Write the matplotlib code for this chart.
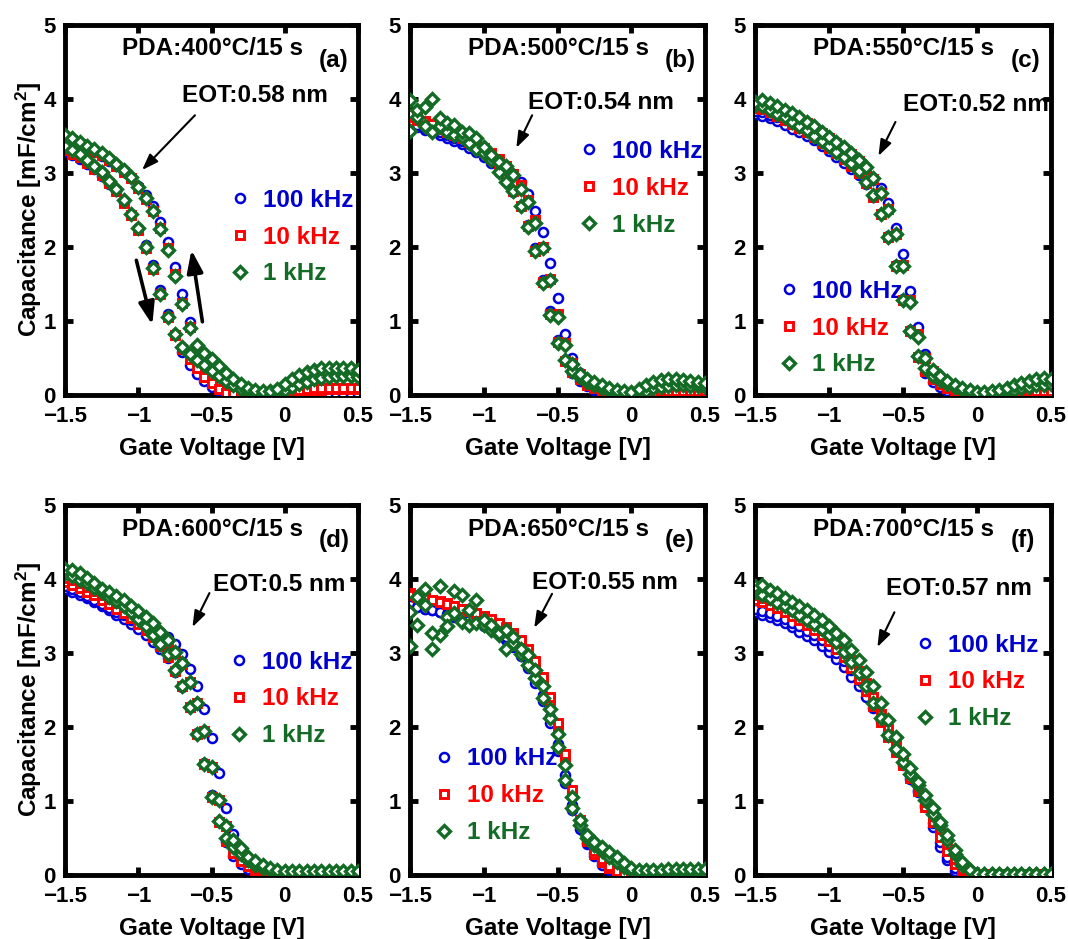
import matplotlib
matplotlib.use("Agg")
import matplotlib.pyplot as plt
from matplotlib.lines import Line2D

plt.rcParams["font.family"] = ["Liberation Sans", "DejaVu Sans"]
plt.rcParams["font.weight"] = "bold"
plt.rcParams["axes.labelweight"] = "bold"
plt.rcParams["mathtext.fontset"] = "custom"
plt.rcParams["mathtext.rm"] = "Liberation Sans:bold"
plt.rcParams["mathtext.bf"] = "Liberation Sans:bold"
plt.rcParams["mathtext.it"] = "Liberation Sans:bold"
plt.rcParams["mathtext.default"] = "rm"

# ---------------------------------------------------------------- data
# gate-voltage sweep points (V)
gate_v = [-1.50, -1.45, -1.40, -1.35, -1.30, -1.25, -1.20, -1.15, -1.10, -1.05,
          -1.00, -0.95, -0.90, -0.85, -0.80, -0.75, -0.70, -0.65, -0.60, -0.55,
          -0.50, -0.45, -0.40, -0.35, -0.30, -0.25, -0.20, -0.15, -0.10, -0.05,
          0.00, 0.05, 0.10, 0.15, 0.20, 0.25, 0.30, 0.35, 0.40, 0.45, 0.50]

# capacitance (mF/cm^2); fwd = sweep toward +V, rev = sweep back toward -V
# (a) PDA 400 C
a_100k_fwd = [3.29, 3.24, 3.19, 3.12, 3.05, 2.96, 2.85, 2.75, 2.61, 2.45, 2.26, 2.03, 1.76, 1.42, 1.10, 0.82, 0.58, 0.40, 0.29, 0.19, 0.11, 0.05, 0.02, 0.01, 0.01, 0.00, 0.00, 0.00, 0.00, 0.00, 0.00, 0.01, 0.01, 0.01, 0.01, 0.01, 0.01, 0.01, 0.01, 0.01, 0.01]
a_100k_rev = [3.47, 3.43, 3.38, 3.33, 3.28, 3.23, 3.16, 3.09, 3.01, 2.93, 2.82, 2.70, 2.55, 2.34, 2.07, 1.73, 1.37, 0.99, 0.62, 0.42, 0.25, 0.13, 0.06, 0.03, 0.02, 0.01, 0.01, 0.01, 0.01, 0.01, 0.01, 0.01, 0.02, 0.02, 0.02, 0.02, 0.02, 0.02, 0.02, 0.02, 0.02]
a_10k_fwd = [3.31, 3.26, 3.21, 3.14, 3.06, 2.97, 2.86, 2.75, 2.60, 2.43, 2.23, 1.98, 1.70, 1.37, 1.06, 0.81, 0.62, 0.48, 0.36, 0.25, 0.16, 0.08, 0.03, 0.01, 0.01, 0.00, 0.00, 0.00, 0.00, 0.01, 0.01, 0.02, 0.04, 0.05, 0.06, 0.07, 0.08, 0.08, 0.08, 0.08, 0.08]
a_10k_rev = [3.48, 3.44, 3.39, 3.34, 3.29, 3.24, 3.17, 3.10, 3.02, 2.93, 2.80, 2.65, 2.48, 2.25, 1.98, 1.63, 1.25, 0.92, 0.64, 0.50, 0.39, 0.29, 0.20, 0.13, 0.07, 0.04, 0.02, 0.01, 0.01, 0.02, 0.03, 0.05, 0.07, 0.08, 0.09, 0.10, 0.10, 0.10, 0.10, 0.10, 0.10]
a_1k_fwd = [3.37, 3.31, 3.26, 3.18, 3.10, 3.01, 2.89, 2.78, 2.63, 2.45, 2.25, 2.00, 1.71, 1.37, 1.06, 0.82, 0.65, 0.55, 0.47, 0.40, 0.33, 0.26, 0.19, 0.13, 0.08, 0.05, 0.03, 0.03, 0.03, 0.04, 0.07, 0.11, 0.15, 0.18, 0.21, 0.23, 0.25, 0.26, 0.26, 0.26, 0.25]
a_1k_rev = [3.51, 3.47, 3.42, 3.37, 3.32, 3.27, 3.20, 3.12, 3.04, 2.95, 2.81, 2.66, 2.49, 2.24, 1.96, 1.61, 1.23, 0.90, 0.68, 0.57, 0.48, 0.39, 0.30, 0.22, 0.15, 0.10, 0.07, 0.06, 0.05, 0.08, 0.15, 0.22, 0.27, 0.31, 0.34, 0.36, 0.37, 0.37, 0.37, 0.36, 0.34]

# (b) PDA 500 C
b_100k_fwd = [3.66, 3.62, 3.58, 3.55, 3.51, 3.47, 3.43, 3.39, 3.34, 3.28, 3.21, 3.13, 3.02, 2.89, 2.74, 2.55, 2.30, 1.98, 1.56, 1.13, 0.74, 0.47, 0.30, 0.19, 0.12, 0.07, 0.04, 0.02, 0.01, 0.01, 0.01, 0.01, 0.01, 0.01, 0.01, 0.01, 0.01, 0.01, 0.01, 0.01, 0.01]
b_100k_rev = [3.70, 3.65, 3.61, 3.58, 3.55, 3.51, 3.47, 3.43, 3.39, 3.34, 3.29, 3.23, 3.16, 3.08, 2.98, 2.88, 2.72, 2.49, 2.20, 1.78, 1.31, 0.83, 0.50, 0.30, 0.18, 0.10, 0.05, 0.03, 0.02, 0.01, 0.01, 0.01, 0.01, 0.01, 0.01, 0.01, 0.01, 0.01, 0.01, 0.01, 0.01]
b_10k_fwd = [3.76, 3.72, 3.68, 3.64, 3.60, 3.56, 3.52, 3.47, 3.42, 3.36, 3.29, 3.20, 3.08, 2.93, 2.76, 2.55, 2.28, 1.95, 1.53, 1.10, 0.72, 0.46, 0.31, 0.21, 0.14, 0.09, 0.06, 0.04, 0.02, 0.01, 0.01, 0.01, 0.02, 0.03, 0.03, 0.04, 0.04, 0.04, 0.04, 0.04, 0.04]
b_10k_rev = [3.80, 3.74, 3.70, 3.66, 3.62, 3.58, 3.54, 3.50, 3.45, 3.40, 3.34, 3.27, 3.19, 3.10, 2.99, 2.84, 2.64, 2.36, 2.00, 1.57, 1.09, 0.70, 0.43, 0.28, 0.18, 0.12, 0.08, 0.05, 0.03, 0.02, 0.01, 0.02, 0.03, 0.04, 0.05, 0.05, 0.05, 0.05, 0.05, 0.05, 0.05]
b_1k_fwd = [3.57, 3.75, 3.64, 3.56, 3.63, 3.55, 3.51, 3.48, 3.40, 3.32, 3.27, 3.18, 3.02, 2.88, 2.75, 2.55, 2.27, 1.94, 1.51, 1.08, 0.70, 0.47, 0.33, 0.24, 0.18, 0.13, 0.09, 0.06, 0.04, 0.02, 0.02, 0.03, 0.06, 0.09, 0.11, 0.12, 0.13, 0.13, 0.12, 0.12, 0.11]
b_1k_rev = [3.98, 3.85, 3.89, 4.00, 3.74, 3.67, 3.65, 3.56, 3.54, 3.47, 3.35, 3.24, 3.15, 3.09, 2.97, 2.79, 2.61, 2.33, 1.98, 1.55, 1.06, 0.68, 0.42, 0.29, 0.21, 0.17, 0.13, 0.10, 0.07, 0.05, 0.04, 0.08, 0.13, 0.17, 0.20, 0.21, 0.21, 0.20, 0.19, 0.18, 0.16]

# (c) PDA 550 C
c_100k_fwd = [3.80, 3.77, 3.74, 3.70, 3.65, 3.60, 3.55, 3.50, 3.44, 3.37, 3.30, 3.22, 3.14, 3.06, 2.97, 2.85, 2.68, 2.45, 2.15, 1.76, 1.30, 0.88, 0.52, 0.30, 0.18, 0.11, 0.06, 0.03, 0.02, 0.01, 0.01, 0.01, 0.01, 0.01, 0.01, 0.01, 0.01, 0.01, 0.01, 0.01, 0.01]
c_100k_rev = [3.84, 3.82, 3.79, 3.75, 3.71, 3.66, 3.61, 3.56, 3.50, 3.44, 3.38, 3.31, 3.24, 3.15, 3.07, 2.99, 2.91, 2.80, 2.60, 2.25, 1.90, 1.40, 0.92, 0.55, 0.30, 0.18, 0.10, 0.05, 0.03, 0.02, 0.01, 0.01, 0.01, 0.01, 0.01, 0.01, 0.01, 0.01, 0.01, 0.01, 0.01]
c_10k_fwd = [3.88, 3.86, 3.82, 3.77, 3.72, 3.66, 3.61, 3.55, 3.48, 3.41, 3.34, 3.27, 3.19, 3.10, 3.00, 2.86, 2.68, 2.44, 2.13, 1.74, 1.28, 0.86, 0.52, 0.33, 0.22, 0.15, 0.10, 0.06, 0.04, 0.02, 0.01, 0.01, 0.01, 0.01, 0.02, 0.02, 0.03, 0.03, 0.03, 0.04, 0.04]
c_10k_rev = [3.92, 3.93, 3.90, 3.86, 3.82, 3.78, 3.73, 3.67, 3.61, 3.54, 3.47, 3.40, 3.33, 3.25, 3.16, 3.06, 2.92, 2.73, 2.51, 2.18, 1.76, 1.28, 0.82, 0.50, 0.32, 0.22, 0.15, 0.10, 0.06, 0.04, 0.02, 0.02, 0.02, 0.03, 0.03, 0.04, 0.05, 0.05, 0.06, 0.06, 0.06]
c_1k_fwd = [3.92, 3.90, 3.85, 3.80, 3.75, 3.69, 3.64, 3.58, 3.50, 3.43, 3.36, 3.29, 3.22, 3.13, 3.03, 2.88, 2.70, 2.45, 2.14, 1.74, 1.28, 0.87, 0.53, 0.36, 0.26, 0.20, 0.15, 0.11, 0.07, 0.05, 0.03, 0.02, 0.02, 0.03, 0.05, 0.07, 0.09, 0.11, 0.13, 0.14, 0.15]
c_1k_rev = [3.96, 3.99, 3.95, 3.90, 3.85, 3.81, 3.76, 3.69, 3.63, 3.56, 3.49, 3.42, 3.35, 3.27, 3.18, 3.08, 2.93, 2.73, 2.50, 2.17, 1.74, 1.26, 0.79, 0.50, 0.34, 0.26, 0.19, 0.14, 0.10, 0.07, 0.04, 0.04, 0.05, 0.07, 0.10, 0.13, 0.16, 0.19, 0.22, 0.23, 0.22]

# (d) PDA 600 C
d_100k_fwd = [3.86, 3.83, 3.79, 3.74, 3.69, 3.63, 3.58, 3.52, 3.46, 3.39, 3.32, 3.24, 3.15, 3.05, 2.93, 2.75, 2.54, 2.27, 1.92, 1.52, 1.08, 0.72, 0.44, 0.26, 0.15, 0.08, 0.04, 0.02, 0.01, 0.01, 0.01, 0.01, 0.01, 0.01, 0.01, 0.01, 0.01, 0.01, 0.01, 0.01, 0.01]
d_100k_rev = [3.90, 3.86, 3.82, 3.77, 3.72, 3.66, 3.61, 3.56, 3.51, 3.45, 3.40, 3.36, 3.32, 3.28, 3.22, 3.12, 2.98, 2.78, 2.55, 2.24, 1.85, 1.38, 0.90, 0.55, 0.30, 0.15, 0.08, 0.04, 0.02, 0.01, 0.01, 0.01, 0.01, 0.01, 0.01, 0.01, 0.01, 0.01, 0.01, 0.01, 0.01]
d_10k_fwd = [3.96, 3.92, 3.88, 3.83, 3.78, 3.72, 3.66, 3.60, 3.54, 3.47, 3.39, 3.31, 3.21, 3.09, 2.95, 2.76, 2.55, 2.27, 1.91, 1.50, 1.06, 0.72, 0.46, 0.30, 0.19, 0.12, 0.07, 0.04, 0.02, 0.01, 0.01, 0.01, 0.01, 0.01, 0.01, 0.01, 0.01, 0.01, 0.01, 0.01, 0.01]
d_10k_rev = [4.02, 3.98, 3.94, 3.89, 3.84, 3.78, 3.73, 3.68, 3.62, 3.55, 3.49, 3.42, 3.34, 3.24, 3.13, 3.00, 2.85, 2.61, 2.32, 1.94, 1.46, 1.02, 0.66, 0.42, 0.27, 0.17, 0.10, 0.06, 0.03, 0.02, 0.01, 0.01, 0.01, 0.01, 0.01, 0.01, 0.01, 0.01, 0.01, 0.01, 0.01]
d_1k_fwd = [4.08, 4.04, 3.99, 3.94, 3.88, 3.82, 3.76, 3.70, 3.63, 3.55, 3.46, 3.37, 3.25, 3.12, 2.98, 2.77, 2.55, 2.27, 1.91, 1.50, 1.06, 0.73, 0.50, 0.38, 0.28, 0.20, 0.14, 0.10, 0.07, 0.05, 0.04, 0.04, 0.04, 0.04, 0.04, 0.04, 0.04, 0.04, 0.04, 0.04, 0.04]
d_1k_rev = [4.14, 4.12, 4.08, 4.02, 3.95, 3.87, 3.82, 3.77, 3.71, 3.63, 3.57, 3.49, 3.40, 3.29, 3.17, 3.02, 2.87, 2.61, 2.32, 1.94, 1.46, 1.01, 0.66, 0.47, 0.36, 0.25, 0.19, 0.14, 0.09, 0.07, 0.05, 0.05, 0.05, 0.05, 0.05, 0.05, 0.05, 0.05, 0.05, 0.05, 0.05]

# (e) PDA 650 C
e_100k_fwd = [3.67, 3.63, 3.60, 3.58, 3.55, 3.52, 3.49, 3.47, 3.44, 3.41, 3.37, 3.32, 3.26, 3.18, 3.08, 2.96, 2.80, 2.60, 2.35, 2.05, 1.68, 1.25, 0.88, 0.62, 0.42, 0.26, 0.14, 0.07, 0.03, 0.02, 0.01, 0.01, 0.01, 0.01, 0.01, 0.01, 0.01, 0.01, 0.01, 0.01, 0.01]
e_100k_rev = [3.65, 3.62, 3.60, 3.58, 3.56, 3.53, 3.50, 3.47, 3.44, 3.41, 3.38, 3.34, 3.29, 3.22, 3.12, 3.00, 2.86, 2.67, 2.43, 2.13, 1.77, 1.35, 0.95, 0.66, 0.45, 0.30, 0.17, 0.09, 0.04, 0.02, 0.01, 0.01, 0.01, 0.01, 0.01, 0.01, 0.01, 0.01, 0.01, 0.01, 0.01]
e_10k_fwd = [3.81, 3.78, 3.75, 3.72, 3.70, 3.67, 3.64, 3.60, 3.57, 3.54, 3.50, 3.45, 3.39, 3.32, 3.24, 3.14, 3.01, 2.85, 2.63, 2.35, 2.01, 1.58, 1.10, 0.70, 0.46, 0.29, 0.18, 0.09, 0.05, 0.03, 0.02, 0.02, 0.02, 0.02, 0.02, 0.02, 0.02, 0.02, 0.02, 0.02, 0.02]
e_10k_rev = [3.78, 3.76, 3.74, 3.72, 3.69, 3.66, 3.63, 3.60, 3.57, 3.54, 3.50, 3.46, 3.41, 3.35, 3.27, 3.17, 3.05, 2.89, 2.68, 2.40, 2.06, 1.63, 1.15, 0.75, 0.50, 0.33, 0.21, 0.12, 0.06, 0.03, 0.02, 0.02, 0.02, 0.02, 0.02, 0.02, 0.02, 0.02, 0.02, 0.02, 0.02]
e_1k_fwd = [3.09, 3.38, 3.65, 3.05, 3.25, 3.49, 3.54, 3.42, 3.38, 3.40, 3.38, 3.31, 3.24, 3.06, 3.13, 2.98, 2.84, 2.66, 2.39, 2.12, 1.73, 1.28, 0.90, 0.68, 0.50, 0.40, 0.32, 0.25, 0.18, 0.11, 0.06, 0.03, 0.03, 0.03, 0.03, 0.03, 0.03, 0.03, 0.03, 0.03, 0.03]
e_1k_rev = [3.56, 3.76, 3.87, 3.27, 3.90, 3.36, 3.84, 3.78, 3.58, 3.72, 3.45, 3.38, 3.27, 3.31, 3.22, 3.06, 2.97, 2.77, 2.55, 2.25, 1.91, 1.49, 1.06, 0.74, 0.54, 0.45, 0.38, 0.31, 0.24, 0.16, 0.10, 0.07, 0.07, 0.07, 0.07, 0.08, 0.08, 0.08, 0.08, 0.08, 0.08]

# (f) PDA 700 C
f_100k_fwd = [3.55, 3.52, 3.49, 3.45, 3.40, 3.35, 3.29, 3.23, 3.17, 3.09, 3.01, 2.92, 2.81, 2.68, 2.55, 2.41, 2.26, 2.08, 1.88, 1.68, 1.49, 1.30, 1.12, 0.92, 0.65, 0.38, 0.20, 0.06, 0.01, 0.00, 0.00, 0.00, 0.00, 0.00, 0.00, 0.00, 0.00, 0.00, 0.00, 0.00, 0.00]
f_100k_rev = [3.60, 3.57, 3.54, 3.50, 3.46, 3.41, 3.36, 3.30, 3.24, 3.17, 3.09, 3.00, 2.89, 2.77, 2.63, 2.48, 2.31, 2.12, 1.92, 1.72, 1.53, 1.34, 1.15, 0.95, 0.70, 0.45, 0.25, 0.09, 0.02, 0.01, 0.01, 0.01, 0.01, 0.01, 0.01, 0.01, 0.01, 0.01, 0.01, 0.01, 0.01]
f_10k_fwd = [3.72, 3.69, 3.65, 3.61, 3.56, 3.50, 3.44, 3.38, 3.31, 3.24, 3.16, 3.06, 2.94, 2.80, 2.65, 2.48, 2.28, 2.07, 1.86, 1.66, 1.48, 1.31, 1.13, 0.92, 0.72, 0.52, 0.32, 0.15, 0.05, 0.01, 0.01, 0.01, 0.01, 0.01, 0.01, 0.01, 0.01, 0.01, 0.01, 0.01, 0.01]
f_10k_rev = [3.78, 3.75, 3.71, 3.67, 3.62, 3.57, 3.51, 3.45, 3.38, 3.31, 3.23, 3.14, 3.03, 2.90, 2.76, 2.60, 2.40, 2.18, 1.97, 1.76, 1.56, 1.37, 1.18, 0.98, 0.80, 0.62, 0.42, 0.22, 0.08, 0.02, 0.01, 0.01, 0.01, 0.01, 0.01, 0.01, 0.01, 0.01, 0.01, 0.01, 0.01]
f_1k_fwd = [3.83, 3.78, 3.74, 3.68, 3.63, 3.58, 3.51, 3.45, 3.39, 3.32, 3.24, 3.15, 3.02, 2.88, 2.73, 2.55, 2.33, 2.12, 1.89, 1.70, 1.53, 1.37, 1.22, 1.01, 0.83, 0.68, 0.47, 0.29, 0.14, 0.07, 0.02, 0.02, 0.02, 0.02, 0.02, 0.02, 0.02, 0.02, 0.02, 0.02, 0.02]
f_1k_rev = [3.90, 3.92, 3.85, 3.81, 3.74, 3.69, 3.64, 3.58, 3.51, 3.45, 3.36, 3.27, 3.17, 3.04, 2.91, 2.75, 2.55, 2.32, 2.09, 1.87, 1.64, 1.44, 1.26, 1.08, 0.90, 0.72, 0.54, 0.34, 0.18, 0.07, 0.02, 0.02, 0.02, 0.02, 0.02, 0.02, 0.02, 0.02, 0.02, 0.02, 0.02]

freq_labels = ["100 kHz", "10 kHz", "1 kHz"]
panel_tags = ["(a)", "(b)", "(c)", "(d)", "(e)", "(f)"]
pda_labels = ["PDA:400°C/15 s", "PDA:500°C/15 s", "PDA:550°C/15 s",
              "PDA:600°C/15 s", "PDA:650°C/15 s", "PDA:700°C/15 s"]
eot_labels = ["EOT:0.58 nm", "EOT:0.54 nm", "EOT:0.52 nm",
              "EOT:0.5 nm", "EOT:0.55 nm", "EOT:0.57 nm"]
x_ticks = [-1.5, -1.0, -0.5, 0.0, 0.5]
x_tick_labels = ["\u22121.5", "\u22121", "\u22120.5", "0", "0.5"]
y_ticks = [0, 1, 2, 3, 4, 5]
y_tick_labels = ["0", "1", "2", "3", "4", "5"]

series = {
    "a": [(a_100k_fwd, a_100k_rev), (a_10k_fwd, a_10k_rev), (a_1k_fwd, a_1k_rev)],
    "b": [(b_100k_fwd, b_100k_rev), (b_10k_fwd, b_10k_rev), (b_1k_fwd, b_1k_rev)],
    "c": [(c_100k_fwd, c_100k_rev), (c_10k_fwd, c_10k_rev), (c_1k_fwd, c_1k_rev)],
    "d": [(d_100k_fwd, d_100k_rev), (d_10k_fwd, d_10k_rev), (d_1k_fwd, d_1k_rev)],
    "e": [(e_100k_fwd, e_100k_rev), (e_10k_fwd, e_10k_rev), (e_1k_fwd, e_1k_rev)],
    "f": [(f_100k_fwd, f_100k_rev), (f_10k_fwd, f_10k_rev), (f_1k_fwd, f_1k_rev)],
}

# ---------------------------------------------------------------- styling
BLUE, RED, GREEN = "#0000DD", "#FF0000", "#136B25"
TXT_BLUE, TXT_RED, TXT_GREEN = "#0000CC", "#FF0000", "#136B25"
marker_styles = [
    dict(marker="o", ms=6.5, mew=1.8, mec=BLUE, mfc="white"),
    dict(marker="s", ms=6.1, mew=2.1, mec=RED, mfc="white"),
    dict(marker="D", ms=6.6, mew=2.4, mec=GREEN, mfc="white"),
]
text_colors = [TXT_BLUE, TXT_RED, TXT_GREEN]

FS = 17.5
TICK_FS = 16

W, H = 1068, 939
fig = plt.figure(figsize=(W / 100, H / 100), dpi=100)

col_px = [(65, 293), (410, 295), (755, 296)]
row_px = [(25, 395), (505, 875)]

# per-panel layout: legend anchor (axes frac), EOT text (axes frac), arrow tail/head (data)
layout = {
    "a": dict(leg=(0.563, 0.427), eot=(0.400, 0.810), arr=((-0.613, 3.78), (-0.974, 3.04))),
    "b": dict(leg=(0.573, 0.559), eot=(0.400, 0.790), arr=((-0.672, 3.78), (-0.779, 3.34))),
    "c": dict(leg=(0.082, 0.181), eot=(0.500, 0.784), arr=((-0.551, 3.69), (-0.666, 3.23))),
    "d": dict(leg=(0.559, 0.476), eot=(0.505, 0.786), arr=((-0.514, 3.81), (-0.630, 3.35))),
    "e": dict(leg=(0.081, 0.214), eot=(0.414, 0.790), arr=((-0.537, 3.80), (-0.658, 3.34))),
    "f": dict(leg=(0.540, 0.522), eot=(0.444, 0.773), arr=((-0.558, 3.55), (-0.673, 3.08))),
}

keys = ["a", "b", "c", "d", "e", "f"]
for idx, key in enumerate(keys):
    r, c = divmod(idx, 3)
    left, width = col_px[c]
    top, bottom = row_px[r]
    ax = fig.add_axes([left / W, (H - bottom) / H, width / W, (bottom - top) / H])

    for (fwd, rev), st in zip(series[key], marker_styles):
        ax.plot(gate_v, fwd, ls="none", zorder=3, **st)
        ax.plot(gate_v, rev, ls="none", zorder=3, **st)

    ax.set_xlim(-1.5, 0.5)
    ax.set_ylim(0, 5)
    ax.set_xticks(x_ticks)
    ax.set_xticklabels(x_tick_labels)
    ax.set_yticks(y_ticks)
    ax.set_yticklabels(y_tick_labels)
    ax.tick_params(direction="in", length=6, width=3.5, top=True, right=True,
                   labelsize=TICK_FS)
    ax.tick_params(axis="x", pad=8)
    ax.tick_params(axis="y", pad=6.5)
    for lab in ax.get_xticklabels() + ax.get_yticklabels():
        lab.set_fontweight("bold")
    for sp in ax.spines.values():
        sp.set_linewidth(3.5)

    ax.set_xlabel("Gate Voltage [V]", fontsize=FS, fontweight="bold", labelpad=7)
    if c == 0:
        ax.set_ylabel("Capacitance [mF/cm$^{2}$]", fontsize=FS, fontweight="bold", labelpad=0)

    ax.text(0.195, 0.937 if r == 0 else 0.935, pda_labels[idx], transform=ax.transAxes,
            fontsize=FS, fontweight="bold", ha="left", va="center")
    ax.text(0.865, 0.905, panel_tags[idx], transform=ax.transAxes,
            fontsize=FS, fontweight="bold", ha="left", va="center")

    lay = layout[key]
    ax.text(lay["eot"][0], lay["eot"][1], eot_labels[idx], transform=ax.transAxes,
            fontsize=FS, fontweight="bold", ha="left", va="center", zorder=2)
    ax.annotate("", xy=lay["arr"][1], xytext=lay["arr"][0],
                arrowprops=dict(arrowstyle="-|>,head_length=0.7,head_width=0.25",
                                color="black", lw=1.5, mutation_scale=14,
                                shrinkA=0, shrinkB=0))

    handles = [Line2D([], [], ls="none", **st) for st in marker_styles]
    leg = ax.legend(handles, freq_labels, loc="center left", bbox_to_anchor=lay["leg"],
                    frameon=False, borderpad=0, borderaxespad=0, handlelength=0.8,
                    handletextpad=0.55, labelspacing=0.57,
                    prop=dict(size=FS, weight="bold"))
    for txt, col in zip(leg.get_texts(), text_colors):
        txt.set_color(col)
    leg.set_zorder(1)

    if key == "a":
        # sweep-direction arrows for the hysteresis loop
        for tail, head in (((-1.013, 1.82), (-0.904, 0.95)), ((-0.562, 0.99), (-0.637, 1.96))):
            ax.annotate("", xy=head, xytext=tail,
                        arrowprops=dict(arrowstyle="-|>,head_length=0.9,head_width=0.32",
                                        color="black", lw=2.6, mutation_scale=15,
                                        shrinkA=0, shrinkB=0))

fig.savefig("out.png", dpi=100)
